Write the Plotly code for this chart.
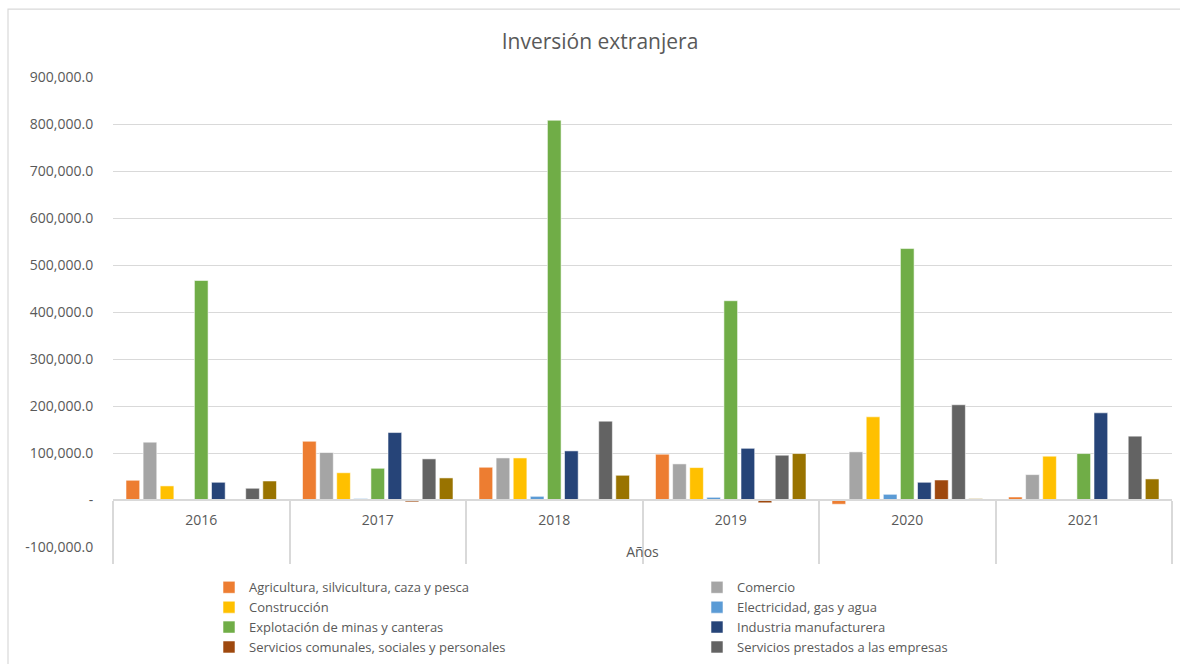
import plotly.graph_objects as go

years = ["2016", "2017", "2018", "2019", "2020", "2021"]

agricultura = [42000, 125000, 69700, 97400, -9000, 6400]
comercio = [123000, 101000, 89500, 76800, 102400, 54000]
construccion = [30000, 58000, 89500, 69000, 177000, 93200]
electricidad = [0, 3000, 7800, 5700, 12100, 0]
minas = [467000, 67500, 808000, 424000, 535000, 98800]
industria = [37700, 143500, 104500, 110000, 37700, 185500]
serv_comunales = [0, -4000, 0, -6000, 42600, 0]
serv_empresas = [25000, 87500, 167800, 95300, 202600, 135800]
transporte = [40500, 47000, 52600, 98800, 2800, 44800]

series = [
    ("Agricultura, silvicultura, caza y pesca", agricultura, "#ED7D31", True),
    ("Comercio", comercio, "#A5A5A5", True),
    ("Construcción", construccion, "#FFC000", True),
    ("Electricidad, gas y agua", electricidad, "#5B9BD5", True),
    ("Explotación de minas y canteras", minas, "#70AD47", True),
    ("Industria manufacturera", industria, "#264478", True),
    ("Servicios comunales, sociales y personales", serv_comunales, "#9E480E", True),
    ("Servicios prestados a las empresas", serv_empresas, "#636363", True),
    ("Transporte, almacenamiento y comunicaciones", transporte, "#997300", False),
]

ytickvals = [-100000, 0, 100000, 200000, 300000, 400000, 500000, 600000, 700000, 800000, 900000]
yticktext = ["-100,000.0", "-", "100,000.0", "200,000.0", "300,000.0", "400,000.0",
             "500,000.0", "600,000.0", "700,000.0", "800,000.0", "900,000.0"]

FONT = "Open Sans"
GRAY = "#595959"
GRID = "#D9D9D9"

fig = go.Figure()
for name, vals, color, show in series:
    fig.add_trace(go.Bar(
        x=years, y=vals, name=name, showlegend=show,
        marker=dict(color=color, line=dict(color="rgba(255,255,255,0.55)", width=1)),
    ))
# invisible trace on xaxis2 to carry boundary ticks
fig.add_trace(go.Scatter(x=years, y=[0]*6, xaxis="x2", mode="markers",
                         marker=dict(opacity=0), showlegend=False, hoverinfo="skip"))

L, R, T, B = 113, 8, 77.3, 117.3
W, H = 1180, 664
pw = W - L - R
ph = H - T - B

def px_x(x):
    return (x - L) / pw

def px_y(y):
    return (H - B - y) / ph

fig.update_layout(
    width=W, height=H,
    margin=dict(l=L, r=R, t=T, b=B, autoexpand=False),
    paper_bgcolor="white", plot_bgcolor="white",
    font=dict(family=FONT, color=GRAY, size=13),
    title=dict(text="Inversión extranjera", x=600 / W, xanchor="center",
               y=1 - 42 / H, yanchor="middle", yref="container",
               font=dict(family=FONT, size=21, color=GRAY)),
    barmode="group", bargap=0.128, bargroupgap=0.2,
    xaxis=dict(type="category", anchor="free", position=0.1,
               showline=True, linecolor=GRID, linewidth=1.5,
               ticks="", showgrid=False, range=[-0.5, 5.5],
               tickfont=dict(size=14, color=GRAY), ticklabelstandoff=7,
               title=dict(text="Años", font=dict(size=14, color=GRAY), standoff=19)),
    xaxis2=dict(type="category", overlaying="x", anchor="free", position=0.1,
                range=[-0.5, 5.5], tickson="boundaries", ticks="outside",
                ticklen=63, tickcolor=GRID, tickwidth=1.5, showticklabels=False,
                showline=False, showgrid=False),
    yaxis=dict(range=[-100000, 900000], tickvals=ytickvals, ticktext=yticktext,
               showgrid=True, gridcolor=GRID, gridwidth=1, zeroline=False,
               showline=False, ticks="outside", ticklen=16, tickcolor="rgba(0,0,0,0)",
               tickfont=dict(size=14, color=GRAY)),
    legend=dict(orientation="h", x=px_x(209), xanchor="left",
                y=px_y(572), yanchor="top",
                entrywidth=443, entrywidthmode="pixels",
                bgcolor="rgba(0,0,0,0)",
                font=dict(size=13, color=GRAY), traceorder="normal",
                itemclick=False),
    shapes=[dict(type="rect", xref="paper", yref="paper",
                 x0=px_x(8), x1=px_x(1190), y0=px_y(680), y1=px_y(9.5),
                 line=dict(color=GRID, width=1.2), fillcolor="rgba(0,0,0,0)", layer="below")],
)

fig.write_html("out.html")
